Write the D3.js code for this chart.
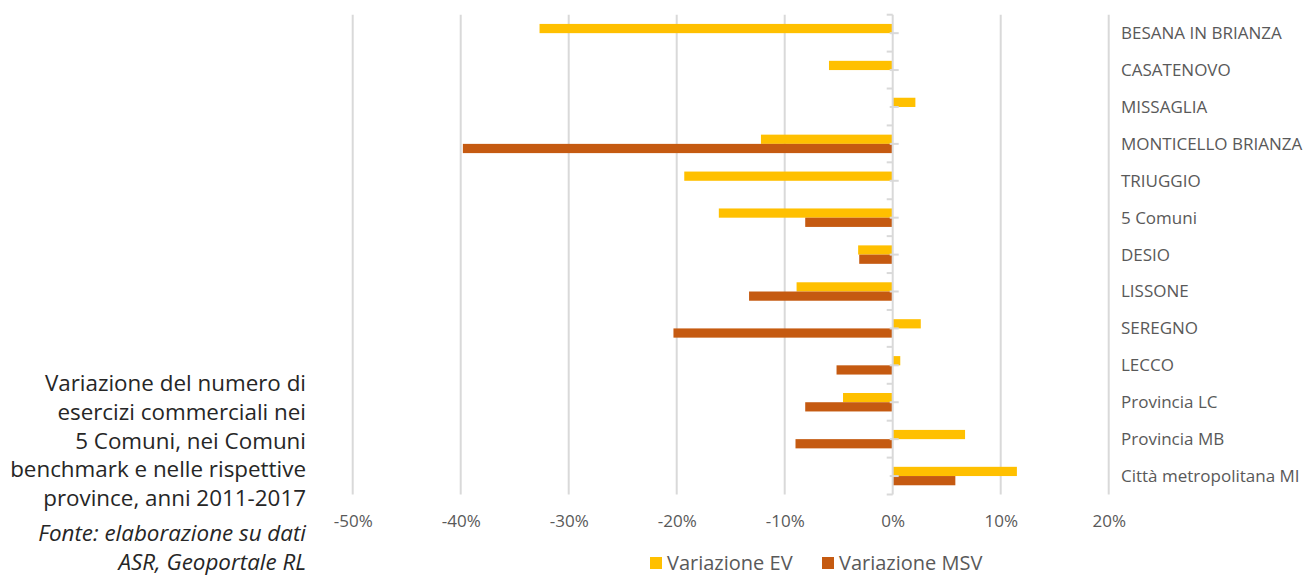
<!DOCTYPE html>
<html>
<head>
<meta charset="utf-8">
<script src="https://cdn.jsdelivr.net/npm/d3@7"></script>
<style>
  body { margin: 0; background: #fff; }
  svg { display: block; font-family: "Open Sans", "Noto Sans", sans-serif; }
</style>
</head>
<body>
<div id="container"></div>
<script>
/* DATA, percent values */
const categories = ["BESANA IN BRIANZA", "CASATENOVO", "MISSAGLIA", "MONTICELLO BRIANZA", "TRIUGGIO",
  "5 Comuni", "DESIO", "LISSONE", "SEREGNO", "LECCO", "Provincia LC", "Provincia MB", "Città metropolitana MI"];
const variazioneEV = [-32.7, -5.9, 2.1, -12.2, -19.3, -16.1, -3.2, -8.9, 2.6, 0.7, -4.6, 6.7, 11.5];
const variazioneMSV = [null, null, null, -39.8, null, -8.1, -3.1, -13.3, -20.3, -5.2, -8.1, -9.0, 5.8];
const seriesNames = ["Variazione EV", "Variazione MSV"];
const xTicks = [-50, -40, -30, -20, -10, 0, 10, 20];
const titleLines = ["Variazione del numero di", "esercizi commerciali nei", "5 Comuni, nei Comuni",
  "benchmark e nelle rispettive", "province, anni 2011-2017"];
const sourceLines = ["Fonte: elaborazione su dati", "ASR, Geoportale RL"];

/* CONSTANTS */
const width = 1305, height = 576;
const plotLeft = 352.7, plotRight = 1108.7; /* -50% .. 20% */
const plotTop = 14.7, plotBottom = 494.5;
const colors = { "Variazione EV": "#FFC000", "Variazione MSV": "#C55A11" };
const gridColor = "#d9d9d9", textColor = "#595959";

const svg = d3.select("#container").append("svg")
  .attr("width", width)
  .attr("height", height);

/* SCALES */
const xScale = d3.scaleLinear().domain([-50, 20]).range([plotLeft, plotRight]);
const yScale = d3.scaleBand().domain(categories).range([plotTop, plotBottom]);
const subScale = d3.scaleBand().domain(seriesNames)
  .range([yScale.bandwidth() * 0.25, yScale.bandwidth() * 0.75]);

/* GRIDLINES */
svg.append("g").selectAll("line")
  .data(xTicks.filter(t => t !== 0))
  .join("line")
  .attr("x1", d => xScale(d)).attr("x2", d => xScale(d))
  .attr("y1", plotTop).attr("y2", plotBottom)
  .attr("stroke", gridColor).attr("stroke-width", 2);

/* X AXIS LABELS (no line) */
const xAxis = d3.axisBottom(xScale)
  .tickValues(xTicks)
  .tickFormat(d => d + "%")
  .tickSize(0)
  .tickPadding(14);
const gx = svg.append("g")
  .attr("transform", `translate(0,${plotBottom + 6})`)
  .call(xAxis);
gx.select(".domain").remove();
gx.selectAll("text").attr("fill", textColor).attr("font-size", 17)
  .attr("font-family", "\"Open Sans\", sans-serif");

/* BARS */
const rows = categories.map((c, i) => ({ cat: c, values: [
  { name: seriesNames[0], v: variazioneEV[i] },
  { name: seriesNames[1], v: variazioneMSV[i] }
].filter(d => d.v !== null) }));

const groups = svg.append("g").selectAll("g")
  .data(rows)
  .join("g")
  .attr("transform", d => `translate(0,${yScale(d.cat)})`);

groups.selectAll("rect")
  .data(d => d.values)
  .join("rect")
  .attr("x", d => xScale(Math.min(0, d.v)))
  .attr("y", d => subScale(d.name))
  .attr("width", d => Math.abs(xScale(d.v) - xScale(0)))
  .attr("height", subScale.bandwidth())
  .attr("fill", d => colors[d.name]);

/* ZERO AXIS with tick marks */
const x0 = xScale(0);
svg.append("line")
  .attr("x1", x0).attr("x2", x0)
  .attr("y1", plotTop).attr("y2", plotBottom)
  .attr("stroke", gridColor).attr("stroke-width", 2);
const boundaries = categories.map(c => yScale(c)).concat([plotBottom]);
svg.append("g").selectAll("line")
  .data(boundaries)
  .join("line")
  .attr("x1", x0 - 6).attr("x2", x0)
  .attr("y1", d => d).attr("y2", d => d)
  .attr("stroke", gridColor).attr("stroke-width", 2);
svg.append("g").selectAll("line")
  .data(categories)
  .join("line")
  .attr("x1", x0 - 3).attr("x2", x0 + 6)
  .attr("y1", d => yScale(d) + yScale.bandwidth() / 2)
  .attr("y2", d => yScale(d) + yScale.bandwidth() / 2)
  .attr("stroke", gridColor).attr("stroke-width", 2);

/* CATEGORY LABELS on the right */
svg.append("g").selectAll("text")
  .data(categories)
  .join("text")
  .attr("x", 1121)
  .attr("y", d => yScale(d) + yScale.bandwidth() / 2)
  .attr("dy", "0.35em")
  .attr("fill", textColor)
  .attr("font-size", 17)
  .text(d => d);

/* LEGEND */
const legend = svg.append("g").attr("transform", "translate(0,563)");
const legendX = [650, 822];
seriesNames.forEach((name, i) => {
  legend.append("rect")
    .attr("x", legendX[i]).attr("y", -6)
    .attr("width", 12).attr("height", 12)
    .attr("fill", colors[name]);
  legend.append("text")
    .attr("x", legendX[i] + 17).attr("y", 0)
    .attr("dy", "0.35em")
    .attr("fill", textColor)
    .attr("font-size", 20)
    .text(name);
});

/* TITLE + SOURCE on the left */
svg.append("g").selectAll("text")
  .data(titleLines)
  .join("text")
  .attr("x", 306)
  .attr("y", (d, i) => 391 + i * 28.8)
  .attr("text-anchor", "end")
  .attr("fill", "#262626")
  .attr("font-size", 22.4)
  .text(d => d);

svg.append("g").selectAll("text")
  .data(sourceLines)
  .join("text")
  .attr("x", 306)
  .attr("y", (d, i) => 541 + i * 29)
  .attr("text-anchor", "end")
  .attr("fill", "#262626")
  .attr("font-size", 22.4)
  .attr("font-style", "italic")
  .text(d => d);
</script>
</body>
</html>
